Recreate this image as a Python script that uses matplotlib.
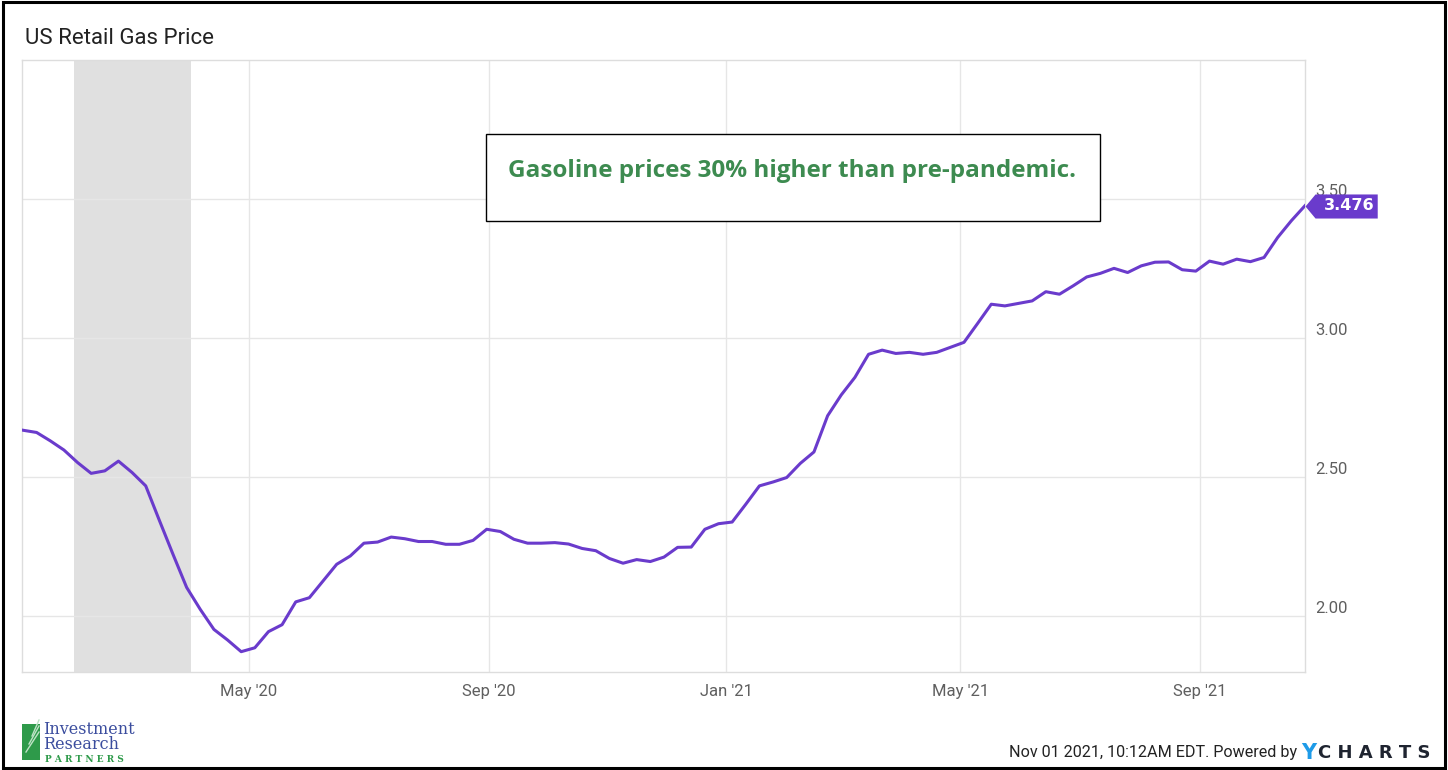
import numpy as np
import pandas as pd
import matplotlib
matplotlib.use("Agg")
from matplotlib import pyplot as plt
from matplotlib import dates as mdates
from matplotlib.path import Path
from matplotlib.patches import Rectangle

plt.rcParams["font.family"] = ["Roboto", "DejaVu Sans"]

# weekly retail gasoline price, Mondays Jan 6 2020 .. Oct 25 2021
week_start = "2020-01-06"
week_end = "2021-10-25"
gas_price = [
    2.669, 2.661, 2.631, 2.598, 2.553, 2.514, 2.523, 2.558, 2.517, 2.469,
    2.345, 2.223, 2.104, 2.025, 1.953, 1.915, 1.873, 1.887, 1.945, 1.970,
    2.052, 2.067, 2.127, 2.187, 2.217, 2.263, 2.267, 2.285, 2.279, 2.269,
    2.269, 2.259, 2.259, 2.273, 2.313, 2.305, 2.277, 2.263, 2.263, 2.265,
    2.260, 2.244, 2.236, 2.208, 2.191, 2.204, 2.197, 2.213, 2.248, 2.249,
    2.313, 2.333, 2.339, 2.403, 2.469, 2.483, 2.499, 2.550, 2.591, 2.721,
    2.796, 2.859, 2.942, 2.957, 2.945, 2.949, 2.942, 2.949, 2.967, 2.985,
    3.053, 3.122, 3.116, 3.125, 3.134, 3.167, 3.158, 3.188, 3.220, 3.233,
    3.251, 3.236, 3.260, 3.273, 3.274, 3.246, 3.241, 3.277, 3.266, 3.284,
    3.275, 3.290, 3.362, 3.422, 3.476,
]
recession = ("2020-02-01", "2020-04-01")
x_ticks = ["2020-05-01", "2020-09-01", "2021-01-01", "2021-05-01", "2021-09-01"]
y_ticks = [2.0, 2.5, 3.0, 3.5]
title = "US Retail Gas Price"
note = "Gasoline prices 30% higher than pre-pandemic."
footer = "Nov 01 2021, 10:12AM EDT. Powered by"

purple = "#6a3bcc"
grid_color = "#e6e6e6"
tick_color = "#5f5f5f"

dates = pd.date_range(week_start, week_end, freq="W-MON")

fig = plt.figure(figsize=(14.48, 7.70), dpi=100)
fig.patch.set_facecolor("white")
ax = fig.add_axes([0.0152, 0.1273, 0.8860, 0.7948])

ax.axvspan(pd.Timestamp(recession[0]), pd.Timestamp(recession[1]), color="#e0e0e0", lw=0, zorder=0)
ax.plot(dates, gas_price, color=purple, linewidth=2.2, solid_joinstyle="round", zorder=3)

ax.set_xlim(dates[0] - pd.Timedelta(hours=12), dates[-1])
ax.set_ylim(1.80, 4.00)
ax.set_xticks([pd.Timestamp(d) for d in x_ticks])
ax.xaxis.set_major_formatter(mdates.DateFormatter("%b '%y"))
ax.set_yticks(y_ticks)
ax.tick_params(axis="x", length=0, pad=9, labelsize=12, labelcolor=tick_color)
ax.tick_params(axis="y", length=0, labelleft=False, labelright=False)
ax.grid(color=grid_color, linewidth=1.0, zorder=1)
for spine in ax.spines.values():
    spine.set_color("#dddddd")
    spine.set_linewidth(1.0)

for val in y_ticks:
    ax.text(1.008, val + 0.028, f"{val:.2f}", transform=ax.get_yaxis_transform(),
            ha="left", va="center", fontsize=12, color=tick_color, zorder=2)

# last value tag
tag = Path([(0, 0), (10, 12), (72, 12), (72, -12), (10, -12), (0, 0)],
           [Path.MOVETO] + [Path.LINETO] * 4 + [Path.CLOSEPOLY])
ax.plot(dates[-1], gas_price[-1], marker=tag, markersize=104, color=purple,
        markeredgewidth=0, clip_on=False, zorder=5)
ax.annotate(f"{gas_price[-1]:.3f}", xy=(dates[-1], gas_price[-1]), xytext=(44, 0),
            textcoords="offset pixels", ha="center", va="center", color="white",
            fontsize=11.5, fontweight="bold", family=["DejaVu Sans"], zorder=6,
            annotation_clip=False)

# note box
ax.add_patch(Rectangle((0.3617, 0.737), 0.4785, 0.142, transform=ax.transAxes,
                       facecolor="white", edgecolor="black", linewidth=1.0, zorder=4))
ax.text(0.600, 0.818, note, transform=ax.transAxes, ha="center", va="center",
        fontsize=17.5, fontweight="bold", color="#3d8b50", family=["Open Sans", "DejaVu Sans"],
        zorder=5)

fig.text(25 / 1448, 1 - 38 / 770, title, ha="left", va="center", fontsize=16, color="#222222")

# footer
fig.text(1297 / 1448, 1 - 753 / 770, footer, ha="right", va="center", fontsize=11.6, color="#222222")
fig.text(1301 / 1448, 1 - 753 / 770, "Y", ha="left", va="center", fontsize=15,
         fontweight="bold", color="#1e9be8", family=["DejaVu Sans"])
fig.text(1318 / 1448, 1 - 753 / 770, "C H A R T S", ha="left", va="center", fontsize=13,
         fontweight="heavy", color="#1f2430", family=["DejaVu Sans"])

# logo
fig.patches.append(Rectangle((22 / 1448, 1 - 760 / 770), 18 / 1448, 36 / 770,
                             transform=fig.transFigure, facecolor="#2e9a4a", edgecolor="none"))
for k in range(3):
    fig.lines.append(plt.Line2D([(26 + 3 * k) / 1448, (39) / 1448],
                                [1 - (752 - 8 * k) / 770, 1 - (732 - 6 * k) / 770],
                                transform=fig.transFigure, color="#bfe3c6", linewidth=1.0))
fig.text(43 / 1448, 1 - 737 / 770, "Investment\nResearch", ha="left", va="center", fontsize=11.5,
         color="#3b4d9e", family=["DejaVu Serif"], linespacing=0.85)
fig.text(45 / 1448, 1 - 759 / 770, "P A R T N E R S", ha="left", va="center", fontsize=6.5,
         color="#2e9a4a", fontweight="bold", family=["DejaVu Serif"])

# outer frame
fig.patches.append(Rectangle((0.002, 0.003), 0.996, 0.994, transform=fig.transFigure,
                             facecolor="none", edgecolor="black", linewidth=2.2))

fig.savefig("out.png", dpi=100)
plt.close(fig)
